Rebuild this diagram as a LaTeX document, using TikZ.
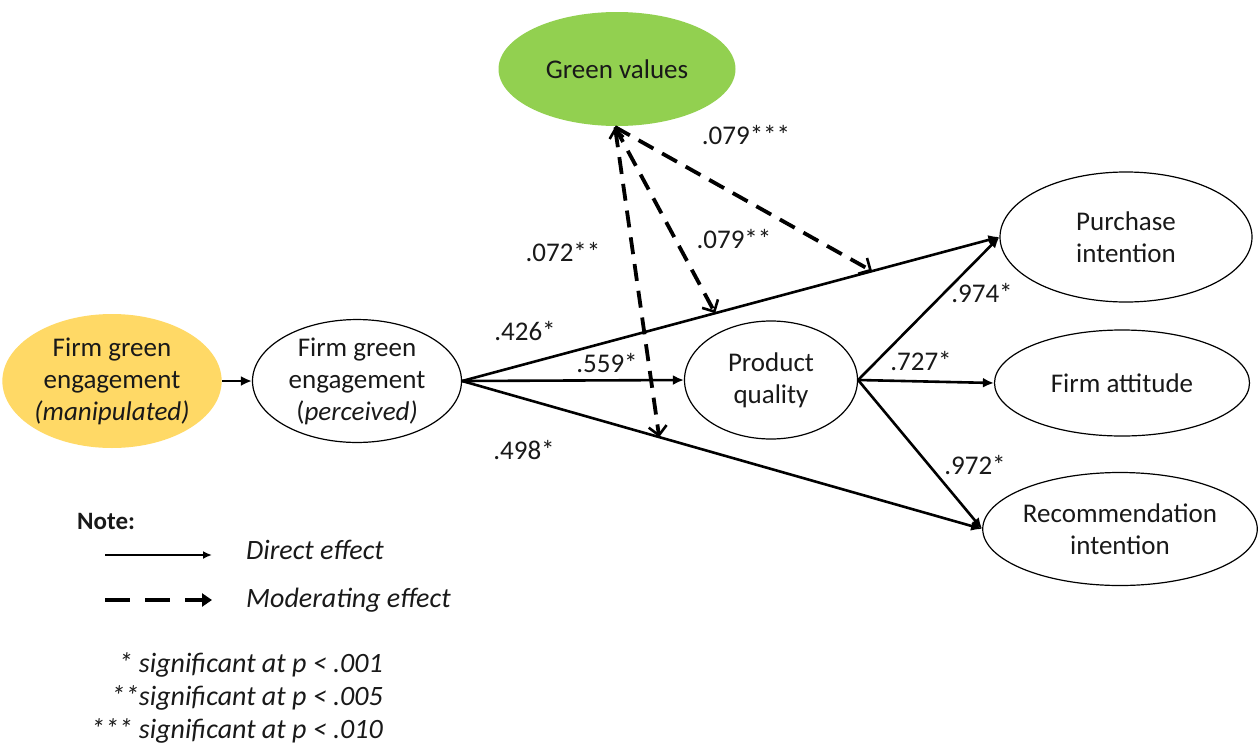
\documentclass[tikz,border=0pt]{standalone}
\usepackage{fontspec}
\setmainfont{Carlito}
\usetikzlibrary{arrows.meta,shapes.geometric}
\definecolor{gvgreen}{RGB}{146,208,80}
\definecolor{fgyellow}{RGB}{255,217,102}
\definecolor{txt}{RGB}{25,25,25}
\begin{document}
\begin{tikzpicture}[x=1pt,y=-1pt,
  font=\fontsize{27}{32}\selectfont, text=txt,
  ell/.style={ellipse, draw=black, line width=1.2pt, inner sep=0pt, align=center},
  direct/.style={line width=2.6pt, -{Latex[length=11pt,width=10pt]}},
  moder/.style={line width=3.8pt, dash pattern=on 17pt off 10pt, -{Straight Barb[length=9pt,width=18pt,line width=2.6pt]}},
  coef/.style={font=\fontsize{27}{32}\selectfont, inner sep=0pt},
  note/.style={font=\fontsize{28}{32}\selectfont\itshape, inner sep=0pt}]
\useasboundingbox (0,0) rectangle (1258,747);

\node[ell, draw=none, fill=gvgreen, minimum width=237pt, minimum height=114pt] (gv) at (617,69) {Green values};
\node[ell, draw=none, fill=fgyellow, minimum width=209pt, minimum height=134pt] (fm) at (112,381) {Firm green\\engagement\\\textit{(manipulated)}};
\node[ell, minimum width=209pt, minimum height=112pt] (fp) at (357,381) {Firm green\\engagement\\(\textit{perceived)}};
\node[ell, minimum width=173pt, minimum height=118pt] (pq) at (771,380) {Product\\quality};
\node[ell, minimum width=252pt, minimum height=130pt] (pi) at (1126,237) {Purchase\\intention};
\node[ell, minimum width=255pt, minimum height=106pt] (fa) at (1122,383) {Firm attitude};
\node[ell, minimum width=271pt, minimum height=113pt] (ri) at (1120,529) {Recommendation\\intention};

\draw[direct] (fm.east) -- (fp.west);
\draw[direct] (fp.east) -- (pi.west) coordinate[pos=0.471] (m2) coordinate[pos=0.763] (m3);
\draw[direct] (fp.east) -- (pq.west);
\draw[direct] (fp.east) -- (ri.west) coordinate[pos=0.379] (m1);
\draw[direct] (pq.east) -- (pi.west);
\draw[direct] (pq.east) -- (fa.west);
\draw[direct] (pq.east) -- (ri.west);

\coordinate (gvb) at (615,127);
\draw[moder, {Straight Barb[length=9pt,width=14pt,line width=2.6pt]}-{Straight Barb[length=9pt,width=18pt,line width=2.6pt]}] (gvb) -- (m1);
\draw[moder] (gvb) -- (m2);
\draw[moder] (gvb) -- (m3);

\node[coef] (c1) at (746,135) {.079***};
\node[coef] (c2) at (563,252) {.072**};
\node[coef] (c3) at (734,239) {.079**};
\node[coef] (c4) at (525,331) {.426*};
\node[coef] (c5) at (607,363) {.559*};
\node[coef] (c6) at (524,450) {.498*};
\node[coef] (c7) at (982,293) {.974*};
\node[coef] (c8) at (921,361) {.727*};
\node[coef] (c9) at (975,465) {.972*};

\node[font=\fontsize{25}{30}\selectfont\bfseries, inner sep=0pt, anchor=west] (nt) at (77,521) {Note:};
\coordinate (l1a) at (105,555); \coordinate (l1b) at (212,555);
\coordinate (l2a) at (105,600); \coordinate (l2b) at (212,600);
\draw[line width=2.2pt, -{Latex[length=9pt,width=8pt]}] (l1a) -- (l1b);
\draw[line width=3.8pt, dash pattern=on 25pt off 15pt, -{Triangle[length=10pt,width=13pt]}] (l2a) -- (l2b);
\node[note, anchor=west] (d1) at (246,550) {Direct effect};
\node[note, anchor=west] (d2) at (246,600) {Moderating effect};
\node[note, anchor=east] (s1) at (383,665) {* significant at p < .001};
\node[note, anchor=east] (s2) at (383,698) {**significant at p < .005};
\node[note, anchor=east] (s3) at (383,731) {*** significant at p < .010};
\end{tikzpicture}
\end{document}
